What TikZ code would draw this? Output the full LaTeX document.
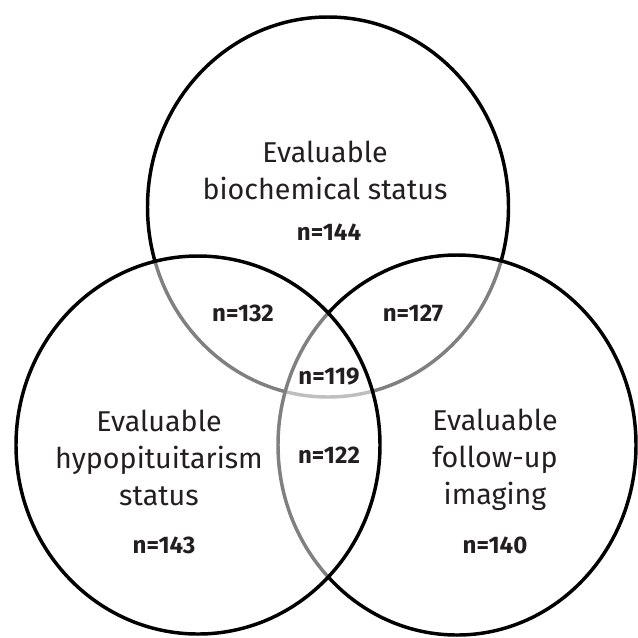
\documentclass[tikz,border=0pt]{standalone}
\usepackage{fontspec}
\setmainfont{Fira Sans}
\usepackage{xcolor}
\definecolor{vtext}{RGB}{35,31,32}
\tikzset{
    vset/.style={draw=black, line width=2.6pt, fill=white, fill opacity=0.5},
    vtitle/.style={align=center, text=vtext, inner sep=0pt,
        font=\fontsize{21.5}{27.75}\selectfont},
    vcount/.style={anchor=base, text=vtext, inner sep=0pt,
        font=\fontsize{18}{20}\selectfont\bfseries},
}

\begin{document}
\begin{tikzpicture}[x=0.75pt, y=-0.75pt]

        \useasboundingbox (0,0) rectangle (638,637);

        % ---------------- sets (top first, left last) ----------------
        \draw[vset] (328,207) ellipse [x radius=180.5, y radius=190];
        \draw[vset] (457,445) ellipse [x radius=179, y radius=190];
        \draw[vset] (198,445) ellipse [x radius=182, y radius=189];

        % ---------------- set names ----------------
        \node[vtitle] (bio) at (325,170) {Evaluable\\biochemical status};
        \node[vtitle] (hypo) at (159,458) {Evaluable\\hypopituitarism\\status};
        \node[vtitle] (img) at (495,460) {Evaluable\\follow-up\\imaging};

        % ---------------- counts ----------------
        \node[vcount] (nbio) at (329,240) {n=144};
        \node[vcount] (nhypo) at (164,553) {n=143};
        \node[vcount] (nimg) at (495,553) {n=140};
        \node[vcount] (nbiohypo) at (243,321) {n=132};
        \node[vcount] (nbioimg) at (413,321) {n=127};
        \node[vcount] (nall) at (329,384) {n=119};
        \node[vcount] (nhypoimg) at (329,463) {n=122};

    \end{tikzpicture}
\end{document}
